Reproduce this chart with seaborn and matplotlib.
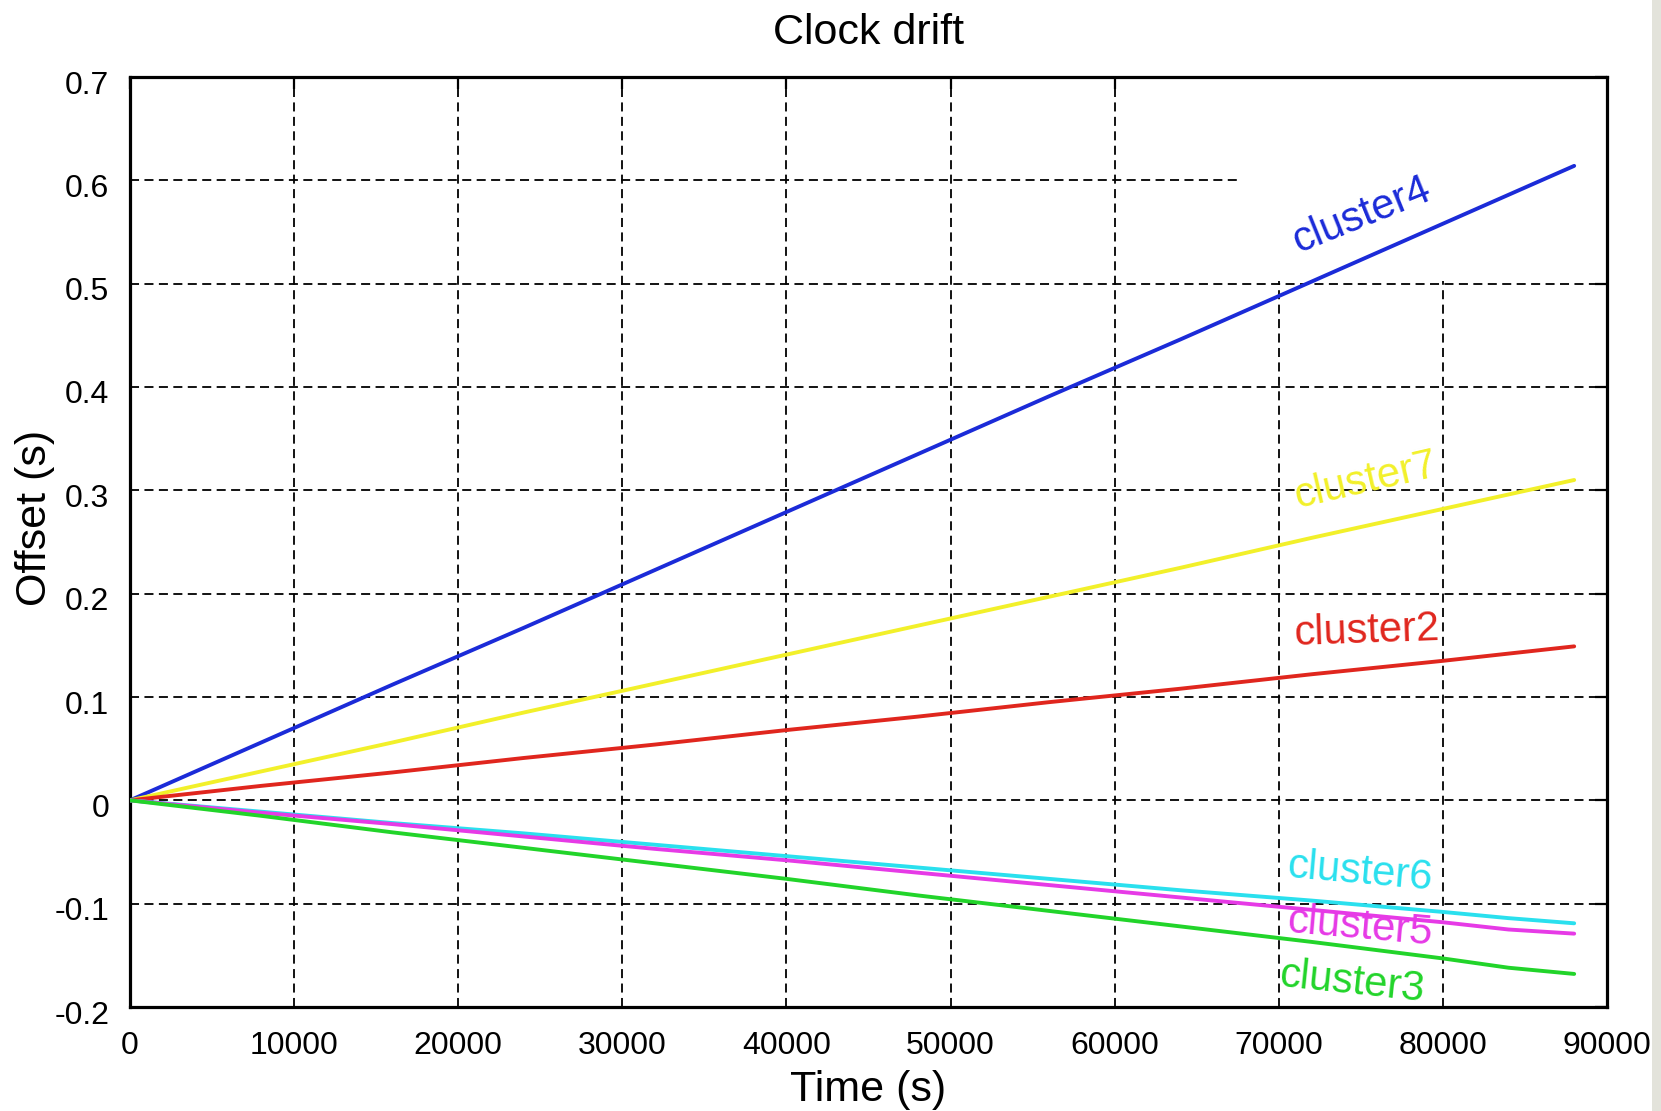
import matplotlib
matplotlib.use("Agg")
import matplotlib.pyplot as plt
import matplotlib.transforms as mtransforms
from matplotlib.patches import Rectangle
import seaborn as sns
import pandas as pd

# ---- data ----
time_s = [0, 8000, 16000, 24000, 32000, 40000, 48000, 56000, 64000, 72000, 80000, 84000, 88000]
cluster4 = [0, 0.056, 0.112, 0.167, 0.223, 0.279, 0.335, 0.391, 0.446, 0.502, 0.558, 0.586, 0.614]
cluster7 = [0, 0.028, 0.056, 0.085, 0.113, 0.141, 0.169, 0.197, 0.225, 0.254, 0.282, 0.296, 0.310]
cluster2 = [0, 0.014, 0.027, 0.041, 0.054, 0.068, 0.081, 0.095, 0.108, 0.122, 0.135, 0.142, 0.149]
cluster6 = [0, -0.011, -0.022, -0.032, -0.043, -0.054, -0.065, -0.076, -0.087, -0.097, -0.108, -0.114, -0.119]
cluster5 = [0, -0.012, -0.023, -0.035, -0.047, -0.058, -0.070, -0.082, -0.094, -0.106, -0.118, -0.125, -0.129]
cluster3 = [0, -0.015, -0.031, -0.046, -0.061, -0.076, -0.092, -0.107, -0.122, -0.137, -0.153, -0.162, -0.168]

series_names = ["cluster4", "cluster7", "cluster2", "cluster6", "cluster5", "cluster3"]
series_values = [cluster4, cluster7, cluster2, cluster6, cluster5, cluster3]
colors = ["#1b2bd8", "#f2f02a", "#e0261e", "#2ae0ee", "#e63ae6", "#22d42a"]

x_ticks = [0, 10000, 20000, 30000, 40000, 50000, 60000, 70000, 80000, 90000]
x_tick_labels = ["0", "10000", "20000", "30000", "40000", "50000", "60000", "70000", "80000", "90000"]
y_ticks = [-0.2, -0.1, 0, 0.1, 0.2, 0.3, 0.4, 0.5, 0.6, 0.7]
y_tick_labels = ["-0.2", "-0.1", "0", "0.1", "0.2", "0.3", "0.4", "0.5", "0.6", "0.7"]

# label placement (data coords) and rotation
label_x = [75070, 75300, 75380, 74950, 74950, 74460]
label_y = [0.566, 0.309, 0.163, -0.070, -0.123, -0.176]
label_rot = [22, 13, 2, -5, -5, -6]

rows = []
for name, vals in zip(series_names, series_values):
    for t, v in zip(time_s, vals):
        rows.append({"time": t, "offset": v, "cluster": name})
df = pd.DataFrame(rows)

sns.set_style("white")
plt.rcParams["font.family"] = ["Liberation Sans", "DejaVu Sans"]
plt.rcParams["axes.unicode_minus"] = False
for k in ["text.color", "axes.labelcolor", "xtick.color", "ytick.color", "axes.edgecolor"]:
    plt.rcParams[k] = "black"

fig = plt.figure(figsize=(16.61, 11.11), dpi=100)
ax = fig.add_axes([130 / 1661, 1 - 1007 / 1111, 1477 / 1661, 930 / 1111])

sns.lineplot(data=df, x="time", y="offset", hue="cluster",
             palette=dict(zip(series_names, colors)), hue_order=series_names,
             linewidth=2.8, legend=False, ax=ax, zorder=3)

ax.set_xlim(0, 90000)
ax.set_ylim(-0.2, 0.7)
ax.set_xticks(x_ticks)
ax.set_xticklabels(x_tick_labels)
ax.set_yticks(y_ticks)
ax.set_yticklabels(y_tick_labels)

ax.set_axisbelow(True)
ax.grid(True, color="black", linewidth=1.3, linestyle=(0, (5.0, 3.0)))
# region where the grid is blanked in the original
ax.add_patch(Rectangle((67600, 0.503), 22400, 0.197, facecolor="white",
                       edgecolor="none", zorder=1))

for sp in ax.spines.values():
    sp.set_linewidth(2.3)
    sp.set_color("black")
    sp.set_visible(True)

ax.tick_params(axis="both", which="major", direction="in", length=8.5, width=1.6,
               labelsize=23, top=True, right=True, color="black", labelcolor="black")
ax.tick_params(axis="x", pad=17.5)
ax.tick_params(axis="y", pad=15.0)

# y tick labels sit slightly below their ticks in the original
offset = mtransforms.ScaledTranslation(0, -5 / 100, fig.dpi_scale_trans)
for lab in ax.get_yticklabels():
    lab.set_transform(lab.get_transform() + offset)

ax.set_title("Clock drift", fontsize=31, pad=24, color="black")
ax.set_xlabel("Time (s)", fontsize=31, color="black")
ax.set_ylabel("Offset (s)", fontsize=31, color="black")
ax.xaxis.set_label_coords(0.5, -0.068)
ax.yaxis.set_label_coords(-0.0508, 0.526)

for name, c, lx, ly, r in zip(series_names, colors, label_x, label_y, label_rot):
    ax.text(lx, ly, name, color=c, fontsize=30, rotation=r,
            ha="center", va="center", rotation_mode="anchor", zorder=4)

# textured strip at the right edge of the original image
fig.patches.append(Rectangle((0.9945, 0), 0.0055, 1, transform=fig.transFigure,
                             facecolor="#e3e3db", edgecolor="none"))

fig.savefig("out.png", dpi=100)
